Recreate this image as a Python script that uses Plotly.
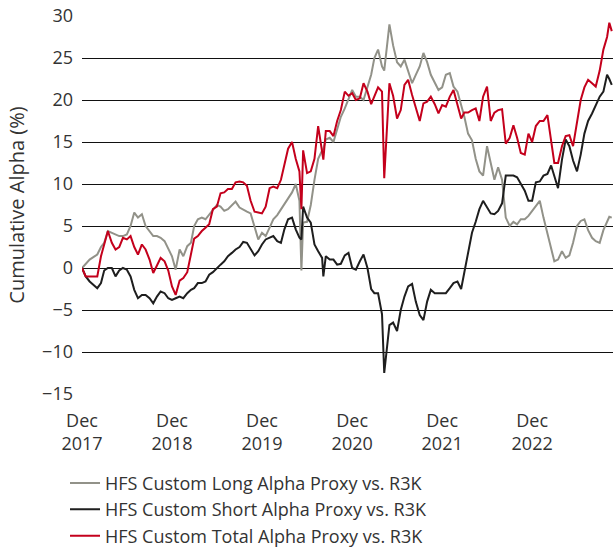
import plotly.graph_objects as go

dates = [
    "2017-12-01", "2017-12-16",
    "2018-01-01", "2018-01-16", "2018-02-01", "2018-02-16", "2018-03-01", "2018-03-16",
    "2018-04-01", "2018-04-16", "2018-05-01", "2018-05-16", "2018-06-01", "2018-06-16",
    "2018-07-01", "2018-07-16", "2018-08-01", "2018-08-16", "2018-09-01", "2018-09-16",
    "2018-10-01", "2018-10-16", "2018-11-01", "2018-11-16", "2018-12-01", "2018-12-16",
    "2019-01-01", "2019-01-16", "2019-02-01", "2019-02-16", "2019-03-01", "2019-03-16",
    "2019-04-01", "2019-04-16", "2019-05-01", "2019-05-16", "2019-06-01", "2019-06-16",
    "2019-07-01", "2019-07-16", "2019-08-01", "2019-08-16", "2019-09-01", "2019-09-16",
    "2019-10-01", "2019-10-16", "2019-11-01", "2019-11-16", "2019-12-01", "2019-12-16",
    "2020-01-01", "2020-01-16", "2020-02-01", "2020-02-16", "2020-03-01", "2020-03-16",
    "2020-04-01", "2020-04-16", "2020-05-01", "2020-05-09", "2020-05-16", "2020-06-01",
    "2020-06-16", "2020-07-01", "2020-07-16", "2020-08-01", "2020-08-06", "2020-08-16",
    "2020-09-01", "2020-09-16", "2020-10-01", "2020-10-16", "2020-11-01", "2020-11-16",
    "2020-12-01", "2020-12-16",
    "2021-01-01", "2021-01-16", "2021-02-01", "2021-02-16", "2021-03-01", "2021-03-16",
    "2021-04-01", "2021-04-10", "2021-05-01", "2021-05-16", "2021-06-01", "2021-06-16",
    "2021-07-01", "2021-07-16", "2021-08-01", "2021-08-16", "2021-09-01", "2021-09-16",
    "2021-10-01", "2021-10-16", "2021-11-01", "2021-11-16", "2021-12-01", "2021-12-16",
    "2022-01-01", "2022-01-16", "2022-02-01", "2022-02-16", "2022-03-01", "2022-03-16",
    "2022-04-01", "2022-04-16", "2022-05-01", "2022-05-16", "2022-06-01", "2022-06-16",
    "2022-07-01", "2022-07-16", "2022-08-01", "2022-08-16", "2022-09-01", "2022-09-16",
    "2022-10-01", "2022-10-16", "2022-11-01", "2022-11-16", "2022-12-01", "2022-12-16",
    "2023-01-01", "2023-01-16", "2023-02-01", "2023-02-16", "2023-03-01", "2023-03-16",
    "2023-04-01", "2023-04-16", "2023-05-01", "2023-05-16", "2023-06-01", "2023-06-16",
    "2023-07-01", "2023-07-16", "2023-08-01", "2023-08-16", "2023-09-01", "2023-09-16",
    "2023-10-01", "2023-10-10", "2023-10-20",
]

long_alpha = [
    0.0, 0.5,
    1.0, 1.3, 1.6, 2.5, 3.0, 4.4, 4.2, 4.0, 3.8, 3.8, 4.0, 5.0,
    6.6, 6.0, 6.4, 5.0, 4.4, 3.8, 3.8, 3.6, 3.2, 2.2, 1.4, -0.2,
    2.2, 1.4, 2.6, 3.0, 5.0, 5.8, 6.0, 5.8, 6.4, 6.9, 7.5, 7.3,
    6.8, 7.0, 7.5, 7.9, 7.2, 6.9, 6.7, 6.5, 4.8, 3.4, 4.2, 3.8,
    4.8, 5.8, 6.3, 7.0, 7.5, 8.2, 9.0, 10.0, 8.0, -0.3, 5.4, 5.5,
    7.5, 10.5, 13.0, 14.0, 14.2, 15.3, 15.5, 15.0, 16.5, 18.0, 19.0, 20.0,
    21.2, 20.4,
    20.4, 20.0, 21.5, 23.0, 25.0, 26.0, 24.0, 23.5, 29.0, 26.5, 24.5, 24.0,
    24.8, 23.5, 22.0, 23.0, 24.0, 25.6, 24.5, 23.0, 22.0, 21.2, 21.5, 23.0,
    23.2, 21.6, 21.0, 19.5, 18.0, 16.0, 15.2, 13.0, 11.5, 11.0, 14.5, 12.5,
    10.5, 12.0, 10.5, 6.0, 5.0, 5.5, 5.2, 5.8, 5.8, 6.2, 6.8, 7.5,
    8.0, 6.0, 4.0, 2.5, 0.8, 1.0, 2.0, 1.2, 1.5, 3.0, 5.0, 5.6,
    5.8, 4.5, 3.6, 3.2, 3.0, 4.5, 5.4, 6.1, 6.0,
]

short_alpha = [
    0.0, -1.0,
    -1.6, -2.0, -2.4, -1.8, -0.3, 0.0, 0.0, -1.0, -0.3, 0.0, -0.2, -1.0,
    -2.6, -3.6, -3.2, -3.2, -3.6, -4.2, -3.4, -2.8, -3.0, -3.6, -3.8, -3.6,
    -3.4, -3.6, -3.0, -2.6, -2.4, -1.8, -1.8, -1.6, -0.8, -0.5, 0.0, 0.4,
    0.8, 1.4, 1.8, 2.2, 2.5, 3.1, 3.0, 2.2, 1.5, 2.0, 2.8, 3.4,
    3.6, 3.8, 3.2, 3.0, 4.6, 5.8, 6.0, 4.6, 3.6, 3.4, 7.3, 6.0,
    5.4, 2.8, 2.0, 1.2, -1.0, 1.4, 1.0, 1.0, 0.4, 0.5, 1.5, 1.8,
    0.0, -0.2,
    0.8, 1.6, 0.0, -2.5, -3.0, -3.0, -5.5, -12.5, -6.8, -6.5, -7.5, -5.0,
    -3.4, -2.2, -1.9, -4.0, -5.6, -6.2, -4.0, -2.6, -3.0, -3.0, -3.0, -3.0,
    -2.4, -1.8, -1.6, -2.5, -0.5, 2.0, 4.2, 5.5, 7.0, 8.0, 7.2, 6.5,
    6.4, 6.8, 7.7, 11.0, 11.0, 11.0, 10.8, 10.0, 9.2, 8.0, 8.0, 10.2,
    10.3, 11.0, 11.2, 12.2, 11.0, 9.5, 12.9, 15.3, 14.5, 12.8, 11.5, 13.5,
    16.0, 17.5, 18.4, 19.4, 20.4, 21.0, 23.0, 22.5, 21.8,
]

total_alpha = [
    0.0, -1.0,
    -1.0, -1.0, -1.0, 1.4, 2.8, 4.4, 3.0, 2.2, 2.5, 3.6, 3.4, 3.8,
    2.5, 1.6, 2.8, 2.2, 1.0, -0.6, 0.3, 1.2, 0.8, -0.3, -2.2, -3.2,
    -1.5, -1.2, -0.5, 1.8, 3.5, 3.8, 4.4, 4.8, 5.2, 7.0, 7.3, 8.9,
    9.0, 9.4, 9.4, 10.2, 10.3, 10.2, 9.8, 8.0, 6.7, 6.6, 6.5, 7.3,
    9.5, 9.7, 9.5, 10.5, 12.4, 14.2, 15.0, 13.0, 11.5, 7.0, 14.0, 11.3,
    11.5, 13.0, 16.9, 14.0, 12.9, 16.3, 16.3, 15.7, 17.5, 18.8, 21.0, 20.5,
    20.8, 20.0,
    20.2, 22.0, 21.0, 19.5, 20.5, 21.5, 21.0, 10.7, 22.0, 20.5, 17.8, 18.8,
    21.8, 22.4, 20.6, 19.0, 17.5, 19.6, 19.8, 20.4, 19.5, 18.4, 19.4, 19.2,
    20.4, 21.2, 19.5, 17.8, 18.5, 18.5, 18.8, 19.0, 17.5, 20.4, 21.6, 17.5,
    18.5, 18.8, 18.9, 14.8, 15.5, 17.0, 15.5, 13.7, 13.5, 16.0, 15.0, 16.9,
    17.5, 17.5, 18.2, 15.3, 12.5, 12.5, 14.5, 15.7, 15.8, 14.5, 17.5, 20.0,
    21.5, 22.4, 22.0, 21.6, 23.5, 26.0, 27.5, 29.2, 28.2,
]

series_names = [
    "HFS Custom Long Alpha Proxy vs. R3K",
    "HFS Custom Short Alpha Proxy vs. R3K",
    "HFS Custom Total Alpha Proxy vs. R3K",
]
y_ticks = [-15, -10, -5, 0, 5, 10, 15, 20, 25, 30]
x_ticks = ["2017-12-01", "2018-12-01", "2019-12-01", "2020-12-01", "2021-12-01", "2022-12-01"]

colors = ["#929289", "#1e1e1e", "#c4001c"]
FONT = "Open Sans"
TXT = "#333333"

fig = go.Figure()
for name, vals, col in zip(series_names, [long_alpha, short_alpha, total_alpha], colors):
    fig.add_trace(go.Scatter(
        x=dates, y=vals, mode="lines", name=name,
        line=dict(color=col, width=2),
    ))

fig.update_layout(
    width=613, height=547,
    margin=dict(l=82, r=0, t=16, b=153, autoexpand=False),
    plot_bgcolor="white", paper_bgcolor="white",
    font=dict(family=FONT, color=TXT, size=18),
    showlegend=True,
    legend=dict(
        orientation="v", x=-0.032, y=-0.187, xanchor="left", yanchor="top",
        font=dict(size=18, color=TXT), tracegroupgap=0,
        bgcolor="rgba(0,0,0,0)",
    ),
    xaxis=dict(
        type="date", range=["2017-12-01", "2023-10-25"],
        tickvals=x_ticks,
        tickformat="%b<br>%Y", showgrid=False, zeroline=False, showline=False,
        tickfont=dict(size=18, color=TXT), ticks="", ticklabelstandoff=14,
        automargin=False,
    ),
    yaxis=dict(
        range=[-15, 30], tickvals=y_ticks, showgrid=True, gridcolor="#111111", gridwidth=1,
        zeroline=False, showline=False, ticks="", tickfont=dict(size=18, color=TXT),
        ticklabelstandoff=8, automargin=False,
        title=dict(text="Cumulative Alpha (%)", font=dict(size=20, color=TXT), standoff=12),
    ),
)

fig.write_html(
    "out.html",
    config={"displayModeBar": False},
    post_script="document.body.style.margin='0px';document.body.style.overflow='hidden';",
)
